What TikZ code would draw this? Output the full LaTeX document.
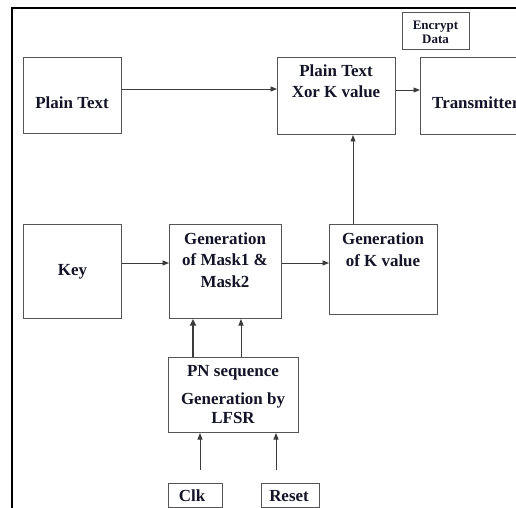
\documentclass[tikz,border=0pt]{standalone}
\usepackage{fontspec}
\setmainfont{Liberation Serif}
\usetikzlibrary{arrows.meta}
\definecolor{boxgray}{RGB}{85,85,85}
\definecolor{arrgray}{RGB}{60,60,60}
\definecolor{txt}{RGB}{20,20,40}
\tikzset{
  blk/.style={draw=boxgray, line width=1bp, inner sep=0pt, anchor=north west},
  lbl/.style={text=txt, font=\fontsize{17}{21.5}\selectfont\bfseries, align=center, inner sep=0pt},
  smalllbl/.style={text=txt, font=\fontsize{13}{14.5}\selectfont\bfseries, align=center, inner sep=0pt},
  conn/.style={draw=arrgray, line width=0.9bp, -{Triangle[length=6.5bp,width=5bp]}},
  thickconn/.style={draw=arrgray, line width=1.8bp, -{Triangle[length=6.5bp,width=6bp]}}
}
\begin{document}
\begin{tikzpicture}[x=1bp,y=-1bp]
\useasboundingbox (0,0) rectangle (516,508);
\fill[white] (0,0) rectangle (516,508);
\clip (0,0) rectangle (516,508);
% outer frame
\draw[black, line width=1.6bp] (12,530) -- (12,8) -- (540,8);
% boxes
\node[blk, minimum width=98bp, minimum height=76bp] (pt) at (23,57) {};
\node[blk, minimum width=118bp, minimum height=77bp] (xor) at (277,57) {};
\node[blk, minimum width=118bp, minimum height=77bp] (tx) at (420,57) {};
\node[blk, minimum width=67bp, minimum height=37bp] (enc) at (402,12) {};
\node[blk, minimum width=98bp, minimum height=94bp] (key) at (23,224) {};
\node[blk, minimum width=112bp, minimum height=94bp] (mask) at (169,224) {};
\node[blk, minimum width=108bp, minimum height=90bp] (genk) at (329,224) {};
\node[blk, minimum width=130bp, minimum height=75bp] (pn) at (168,357) {};
\node[blk, minimum width=54bp, minimum height=24bp] (clk) at (168,483) {};
\node[blk, minimum width=58bp, minimum height=24bp] (rst) at (261,483) {};
% labels (anchor=base refers to the last line's baseline)
\node[lbl, anchor=base] (ptl) at (72,109) {Plain Text};
\node[lbl, anchor=base] (xorl) at (336,97.5) {Plain Text\\Xor K value};
\node[lbl, anchor=base west] (txl) at (432,109) {Transmitter};
\node[smalllbl, anchor=base] (encl) at (435.5,44) {Encrypt\\Data};
\node[lbl, anchor=base] (keyl) at (72.5,275) {Key};
\node[lbl, anchor=base] (maskl) at (225,287) {Generation\\of Mask1 \&\\Mask2};
\node[lbl, anchor=base] (genkl) at (383,266) {Generation\\of K value};
\node[lbl, anchor=base] (pnl1) at (233,376) {PN sequence};
\node[lbl, anchor=base, font=\fontsize{17}{18.5}\selectfont\bfseries] (pnl2) at (233,423) {Generation by\\LFSR};
\node[lbl, anchor=base] (clkl) at (192,501) {Clk};
\node[lbl, anchor=base] (rstl) at (289,501) {Reset};
% connectors
\draw[conn] (pt.east |- 0,89) -- (xor.west |- 0,89);
\draw[conn] (xor.east |- 0,90) -- (tx.west |- 0,90);
\coordinate (kup) at (353,224);
\draw[conn] (kup) -- (kup |- xor.south);
\draw[conn] (key.east |- 0,263) -- (mask.west |- 0,263);
\draw[conn] (mask.east |- 0,263) -- (genk.west |- 0,263);
\coordinate (pa) at (193,357);
\coordinate (pb) at (241,357);
\draw[thickconn] (pa) -- (pa |- mask.south);
\draw[conn] (pb) -- (pb |- mask.south);
\coordinate (ca) at (200,470);
\coordinate (ra) at (276,470);
\draw[conn] (ca) -- (ca |- pn.south);
\draw[conn] (ra) -- (ra |- pn.south);
\end{tikzpicture}
\end{document}
